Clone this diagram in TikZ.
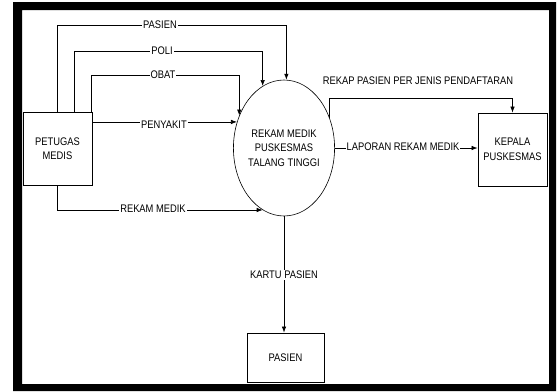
\documentclass[tikz,border=0pt]{standalone}
\usepackage{fontspec}
\setmainfont{Liberation Sans}[FakeStretch=0.85]
\usetikzlibrary{arrows.meta,shapes.geometric}
\begin{document}
\begin{tikzpicture}[x=1pt,y=-1pt,
  every node/.style={font=\fontsize{11}{14.5}\selectfont},
  box/.style={draw,line width=0.8pt,rectangle,align=center,inner sep=0pt},
  proc/.style={draw,line width=0.6pt,ellipse,align=center,inner sep=0pt},
  flow/.style={line width=0.7pt,-{Latex[length=6pt,width=4.5pt]}},
  lbl/.style={fill=white,inner sep=1pt}]
\useasboundingbox (0,0) rectangle (557,391);
\fill[black,even odd rule] (13,2) rectangle (556,391) (22,10) rectangle (549,384);

\node[box,minimum width=69pt,minimum height=73pt] (pm) at (57.5,148.5) {PETUGAS\\MEDIS};
\node[proc,minimum width=94pt,minimum height=136pt] (rm) at (284,148) {REKAM MEDIK\\PUSKESMAS\\TALANG TINGGI};
\node[box,minimum width=69pt,minimum height=73pt] (kp) at (512.5,149.5) {KEPALA\\PUSKESMAS};
\node[box,minimum width=77pt,minimum height=49pt] (ps) at (285.5,357.5) {PASIEN};

\draw[flow] (pm.north) -- (57.5,25) -| (rm.88);
\draw[flow] (pm.north -| 74,0) -- (74,51) -| (rm.109);
\draw[flow] (pm.north -| 91,0) -- (91,75) -| (rm.144);
\draw[flow] (pm.east |- rm.151) -- (rm.151);
\draw[flow] (pm.south) |- (rm.251);
\draw[flow] (rm.east) -- (rm.east -| kp.west);
\draw[flow] (rm.33) -- (rm.33 |- 0,98) -| (kp.north);
\draw[flow] (rm.south) -- (rm.south |- ps.north);

\node[lbl] (lpasien) at (160,25) {PASIEN};
\node[lbl] (lpoli) at (162,51) {POLI};
\node[lbl] (lobat) at (163,75) {OBAT};
\node[lbl] (lpenyakit) at (164,124.5) {PENYAKIT};
\node[lbl] (lrekam) at (153,209) {REKAM MEDIK};
\node[lbl] (llaporan) at (403,147) {LAPORAN REKAM MEDIK};
\node[lbl] (lrekap) at (418,81) {REKAP PASIEN PER JENIS PENDAFTARAN};
\node[lbl] (lkartu) at (284,275) {KARTU PASIEN};
\end{tikzpicture}
\end{document}
